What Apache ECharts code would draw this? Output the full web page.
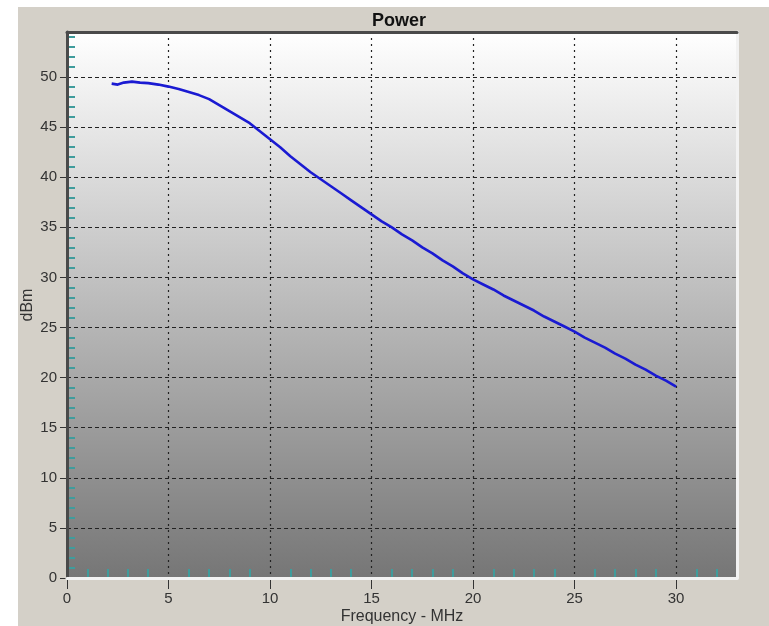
<!DOCTYPE html>
<html>
<head>
<meta charset="utf-8">
<script src="https://cdn.jsdelivr.net/npm/echarts@6/dist/echarts.min.js"></script>
<style>
html,body{margin:0;padding:0;background:#ffffff;}
#wrap{position:relative;width:769px;height:626px;overflow:hidden;}
#panel{position:absolute;left:18px;top:7px;right:0;bottom:0;background:#d4d0c8;}
#chart{position:absolute;left:0;top:0;width:769px;height:626px;}
</style>
</head>
<body>
<div id="wrap"><div id="panel"></div><div id="chart"></div></div>
<script>
// Data
const freq  = [2.2, 2.5, 2.8, 3.2, 3.6, 4.0, 4.5, 5.0, 5.5, 6.0, 6.5, 7.0, 7.5, 8.0, 8.5, 9.0, 9.5, 10.0, 10.5, 11.0, 11.5, 12.0, 12.5, 13.0, 13.5, 14.0, 14.5, 15.0, 15.5, 16.0, 16.5, 17.0, 17.5, 18.0, 18.5, 19.0, 19.5, 20.0, 20.5, 21.0, 21.5, 22.0, 22.5, 23.0, 23.5, 24.0, 24.5, 25.0, 25.5, 26.0, 26.5, 27.0, 27.5, 28.0, 28.5, 29.0, 29.5, 30.0];
const power = [49.35, 49.25, 49.45, 49.55, 49.45, 49.4, 49.25, 49.05, 48.8, 48.5, 48.2, 47.8, 47.2, 46.6, 46.0, 45.4, 44.6, 43.8, 43.0, 42.1, 41.3, 40.5, 39.8, 39.1, 38.4, 37.7, 37.0, 36.3, 35.6, 35.0, 34.3, 33.7, 33.0, 32.4, 31.7, 31.1, 30.4, 29.8, 29.3, 28.8, 28.2, 27.7, 27.2, 26.7, 26.1, 25.6, 25.1, 24.6, 24.0, 23.5, 23.0, 22.4, 21.9, 21.3, 20.8, 20.2, 19.7, 19.1];
const xLabels = [0, 5, 10, 15, 20, 25, 30];
const yLabels = [0, 5, 10, 15, 20, 25, 30, 35, 40, 45, 50];
const xMinorTicks = [1,2,3,4,6,7,8,9,11,12,13,14,16,17,18,19,21,22,23,24,26,27,28,29,31,32];
const yMinorTicks = [1,2,3,4,6,7,8,9,11,12,13,14,16,17,18,19,21,22,23,24,26,27,28,29,31,32,33,34,36,37,38,39,41,42,43,44,46,47,48,49,51,52,53,54];
const X_MAX = 33, Y_MAX = 54.5;

const chart = echarts.init(document.getElementById('chart'), null, {renderer: 'canvas'});
const teal = '#3f9c9c';
const font = 'Liberation Sans, Arial, sans-serif';
const option = {
  backgroundColor: 'transparent',
  animation: false,
  title: {
    text: 'Power', left: 394, top: 7, textAlign: 'center',
    textStyle: {fontFamily: font, fontSize: 18, fontWeight: 'bold', color: '#111'}
  },
  grid: {
    left: 67, top: 32, right: 32, bottom: 48, show: true,
    outerBoundsMode: 'none', containLabel: false,
    borderWidth: 0,
    backgroundColor: {type: 'linear', x: 0, y: 0, x2: 0, y2: 1,
      colorStops: [{offset: 0, color: '#ffffff'}, {offset: 1, color: '#767676'}]}
  },
  xAxis: [
    {
      type: 'value', min: 0, max: X_MAX, interval: 5, position: 'bottom',
      name: 'Frequency - MHz', nameLocation: 'middle', nameGap: 31, nameMoveOverlap: false,
      nameTextStyle: {fontFamily: font, fontSize: 16, color: '#333', verticalAlign: 'top'},
      axisLine: {show: false, onZero: false},
      axisTick: {show: true, inside: false, length: 11, customValues: xLabels, lineStyle: {color: '#333', width: 1}},
      axisLabel: {customValues: xLabels, fontFamily: font, fontSize: 15, color: '#333', margin: 13},
      splitLine: {show: true, lineStyle: {color: '#222', width: 1.2, type: [2, 4]}}
    },
    {
      type: 'value', min: 0, max: X_MAX, interval: 1, position: 'bottom',
      axisLine: {show: false, onZero: false}, axisLabel: {show: false}, splitLine: {show: false},
      axisTick: {show: true, inside: true, length: 9, customValues: xMinorTicks, lineStyle: {color: teal, width: 2}}
    },
    {
      type: 'value', min: 0, max: X_MAX, position: 'top', z: 10,
      axisLine: {show: true, onZero: false, lineStyle: {color: '#4a4a4a', width: 3}},
      axisTick: {show: false}, axisLabel: {show: false}, splitLine: {show: false}
    },
    {
      type: 'value', min: 0, max: X_MAX, position: 'bottom', z: 10,
      axisLine: {show: true, onZero: false, lineStyle: {color: '#f2f2f2', width: 3}},
      axisTick: {show: false}, axisLabel: {show: false}, splitLine: {show: false}
    }
  ],
  yAxis: [
    {
      type: 'value', min: 0, max: Y_MAX, interval: 5, position: 'left',
      name: 'dBm', nameLocation: 'middle', nameGap: 31, nameMoveOverlap: false,
      nameTextStyle: {fontFamily: font, fontSize: 16, color: '#333'},
      axisLine: {show: false, onZero: false},
      axisTick: {show: true, inside: false, length: 7, customValues: yLabels, lineStyle: {color: '#333', width: 1}},
      axisLabel: {customValues: yLabels, fontFamily: font, fontSize: 15, color: '#333', margin: 10},
      splitLine: {show: true, lineStyle: {color: '#222', width: 1.2, type: [4, 3]}}
    },
    {
      type: 'value', min: 0, max: Y_MAX, interval: 1, position: 'left',
      axisLine: {show: false, onZero: false}, axisLabel: {show: false}, splitLine: {show: false},
      axisTick: {show: true, inside: true, length: 8, customValues: yMinorTicks, lineStyle: {color: teal, width: 2}}
    },
    {
      type: 'value', min: 0, max: Y_MAX, position: 'left', z: 10,
      axisLine: {show: true, onZero: false, lineStyle: {color: '#4a4a4a', width: 3}},
      axisTick: {show: false}, axisLabel: {show: false}, splitLine: {show: false}
    },
    {
      type: 'value', min: 0, max: Y_MAX, position: 'right', z: 10,
      axisLine: {show: true, onZero: false, lineStyle: {color: '#f2f2f2', width: 3}},
      axisTick: {show: false}, axisLabel: {show: false}, splitLine: {show: false}
    }
  ],
  series: [{
    type: 'line', xAxisIndex: 0, yAxisIndex: 0,
    data: freq.map((f, i) => [f, power[i]]),
    showSymbol: false, symbol: 'none', smooth: false,
    lineStyle: {color: '#1a1ad2', width: 2.6},
    z: 5
  }]
};
chart.setOption(option);
</script>
</body>
</html>
